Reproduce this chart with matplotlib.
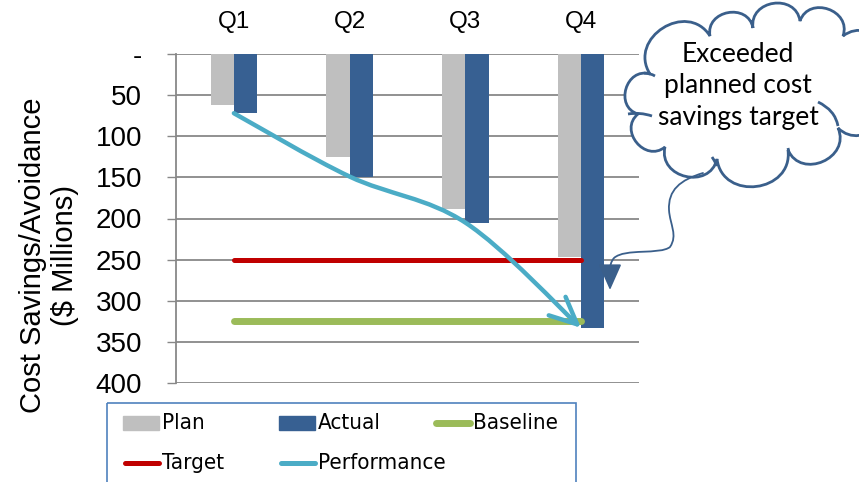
import numpy as np
import matplotlib
matplotlib.use("Agg")
import matplotlib.pyplot as plt
from matplotlib import font_manager as fm
from matplotlib.path import Path
from matplotlib.patches import FancyArrowPatch, PathPatch, Rectangle
from matplotlib.lines import Line2D
from matplotlib.transforms import Affine2D

quarters = ["Q1", "Q2", "Q3", "Q4"]
plan = [62, 125, 188, 247]
actual = [72, 149, 205, 333]
performance = [72, 149, 205, 333]
target = 250
baseline = 325
yticks = [0, 50, 100, 150, 200, 250, 300, 350, 400]
ytick_labels = ["-", "50", "100", "150", "200", "250", "300", "350", "400"]

PLAN_C, ACTUAL_C = "#BFBFBF", "#376092"
PERF_C, TARGET_C, BASE_C = "#4BACC6", "#C00000", "#9BBB59"
GRID_C = "#888888"
CLOUD_C = "#3A5F8B"
W, H = 859, 482

plt.rcParams["font.family"] = ["Liberation Sans", "DejaVu Sans"]

# narrow face for the legend if one is installed
narrow = None
for f in fm.fontManager.ttflist:
    if f.name == "Liberation Sans Narrow" and f.weight in (400, "normal") and f.style == "normal":
        narrow = f
        break
if narrow is None:
    for f in fm.fontManager.ttflist:
        if f.name.startswith("DejaVu Sans") and "ondensed" in f.fname and f.weight in (400, "normal") \
                and f.style == "normal" and "Mono" not in f.fname:
            narrow = f
            break
if narrow is not None:
    leg_font = dict(fontproperties=fm.FontProperties(fname=narrow.fname, size=16))
else:
    leg_font = dict(family="Liberation Sans", fontsize=14)

fig = plt.figure(figsize=(W / 100, H / 100), dpi=100)
ax = fig.add_axes([176 / W, 1 - 383 / H, 463 / W, 329 / H])
# pixel coords measured from the top-left corner of the figure
px = Affine2D().scale(1 / W, -1 / H).translate(0, 1) + fig.transFigure

x = np.arange(len(quarters))
bw = 0.2
ax.bar(x - bw / 2, plan, bw, color=PLAN_C, zorder=2)
ax.bar(x + bw / 2, actual, bw, color=ACTUAL_C, zorder=2)

ax.plot([x[0], x[-1]], [target, target], color=TARGET_C, lw=3.6,
        solid_capstyle="round", zorder=3)
ax.plot([x[0], x[-1]], [baseline, baseline], color=BASE_C, lw=5,
        solid_capstyle="round", zorder=3)

# smoothed performance line (Catmull-Rom -> cubic Bezier) with arrow head
pts = np.column_stack([x, performance]).astype(float)
verts = [pts[0]]
codes = [Path.MOVETO]
for i in range(len(pts) - 1):
    p0 = pts[max(i - 1, 0)]
    p1, p2 = pts[i], pts[i + 1]
    p3 = pts[min(i + 2, len(pts) - 1)]
    verts += [p1 + (p2 - p0) / 6, p2 - (p3 - p1) / 6, p2]
    codes += [Path.CURVE4] * 3
perf = FancyArrowPatch(path=Path(verts, codes), arrowstyle="->,head_length=0.65,head_width=0.3",
                       mutation_scale=30, color=PERF_C, lw=3.2, transform=ax.transData,
                       zorder=4, capstyle="round")
ax.add_patch(perf)

ax.set_xlim(-0.5, len(quarters) - 0.5)
ax.set_ylim(400, 0)
ax.set_yticks(yticks)
ax.set_yticklabels(ytick_labels)
ax.set_xticks(x)
ax.set_xticklabels(quarters)
ax.xaxis.tick_top()
ax.tick_params(axis="x", length=0, pad=15, labelsize=17.5)
ax.tick_params(axis="y", length=6.5, width=1, color=GRID_C, pad=18, labelsize=20)
ax.grid(axis="y", color=GRID_C, lw=1.3, zorder=0)
for s in ["top", "right", "bottom"]:
    ax.spines[s].set_visible(False)
ax.spines["left"].set_color(GRID_C)
ax.spines["left"].set_linewidth(1.3)

fig.text(49 / W, 1 - 255 / H, "Cost Savings/Avoidance\n($ Millions)", rotation=90,
         ha="center", va="center", multialignment="center", fontsize=21,
         linespacing=1.15)

# legend, drawn by hand inside a box that runs off the bottom edge
fig.add_artist(Rectangle((107, 403), 469, 100, transform=px, fill=False,
                         ec="#4F81BD", lw=1.2, clip_on=False))
legend_items = [
    ("Plan", "bar", PLAN_C, 123, 423),
    ("Actual", "bar", ACTUAL_C, 279, 423),
    ("Baseline", "line", BASE_C, 434, 423),
    ("Target", "line", TARGET_C, 123, 463),
    ("Performance", "line", PERF_C, 279, 463),
]
for label, kind, color, lx, ly in legend_items:
    if kind == "bar":
        fig.add_artist(Rectangle((lx, ly - 7), 36, 14, transform=px, color=color))
    else:
        lw = 5 if color == BASE_C else 3.6
        fig.add_artist(Line2D([lx + 2, lx + 36], [ly, ly], transform=px, color=color,
                              lw=lw, solid_capstyle="round"))
    fig.text((lx + 39) / W, 1 - ly / H, label, ha="left", va="center", **leg_font)

# cloud callout: bumps between junction points
junctions = np.array([(650, 74), (710, 36), (753, 28), (800, 21), (843, 36), (880, 85),
                      (838, 128), (788, 150), (717, 159), (665, 147), (638, 114)], float)
centre = np.array([745, 95.0])
cverts = [junctions[0]]
ccodes = [Path.MOVETO]
for k in range(len(junctions)):
    a, b = junctions[k], junctions[(k + 1) % len(junctions)]
    chord = b - a
    nrm = np.array([chord[1], -chord[0]]) / np.hypot(*chord)
    if np.dot(nrm, (a + b) / 2 - centre) < 0:
        nrm = -nrm
    h = 0.6 * np.hypot(*chord)
    cverts += [a + nrm * h, b + nrm * h, b]
    ccodes += [Path.CURVE4] * 3
fig.add_artist(PathPatch(Path(cverts, ccodes), transform=px, fc="white",
                         ec=CLOUD_C, lw=2, zorder=10))
# small inner arcs at some of the joins
for arc in [[(818, 102), (835, 110), (838, 126)],
            [(628, 114), (640, 112), (652, 116)],
            [(644, 73), (650, 73), (655, 76)],
            [(712, 157), (716, 163), (717, 166)],
            [(788, 148), (789, 153), (790, 156)]]:
    fig.add_artist(PathPatch(Path(arc, [Path.MOVETO, Path.CURVE3, Path.CURVE3]),
                             transform=px, fill=False, ec=CLOUD_C, lw=2, zorder=11))
fig.text(738 / W, 1 - 86 / H, "Exceeded\nplanned cost\nsavings target", ha="center",
         va="center", fontsize=19, family="Lato", linespacing=1.3, zorder=12)

tail = Path([(703, 173), (680, 180), (668, 190), (669, 210),
             (670, 225), (678, 235), (670, 247),
             (660, 255), (625, 248), (614, 258),
             (608, 265), (610, 275), (610, 290)],
            [Path.MOVETO] + [Path.CURVE4] * 12)
fig.add_artist(FancyArrowPatch(path=tail, transform=px,
                               arrowstyle="-|>,head_length=0.9,head_width=0.4",
                               mutation_scale=18, color=CLOUD_C, lw=1.3, zorder=10))

fig.savefig("out.png", dpi=100)
